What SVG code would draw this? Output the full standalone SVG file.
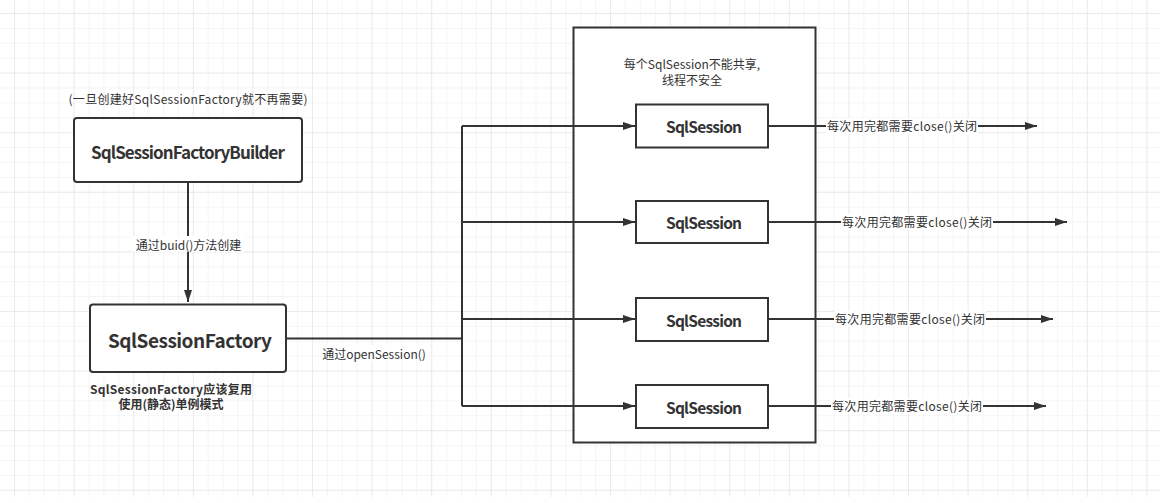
<svg xmlns="http://www.w3.org/2000/svg" width="1160" height="503" viewBox="0 0 1160 503">
<defs>
<pattern id="minor" x="14" y="13" width="14.9" height="14.9" patternUnits="userSpaceOnUse">
<path d="M0 0V14.9M0 0H14.9" fill="none" stroke="#ececec" stroke-width="1"/>
</pattern>
<pattern id="major" x="14" y="13" width="59.6" height="59.6" patternUnits="userSpaceOnUse">
<path d="M0 0V59.6M0 0H59.6" fill="none" stroke="#e1e1e1" stroke-width="1"/>
</pattern>
<marker id="arr" viewBox="0 0 12 8" refX="12" refY="4" markerWidth="12" markerHeight="8" markerUnits="userSpaceOnUse" orient="auto">
<path d="M0 0L12 4L0 8Z" fill="#333"/>
</marker>
<style>
.box{fill:#fff;stroke:#333;stroke-width:2}
.t{font-family:"Noto Sans CJK SC","Noto Sans",sans-serif;fill:#333;text-anchor:middle;dominant-baseline:central}
.bold{font-weight:bold}
.lbl{font-size:12px}
.ln{fill:none;stroke:#333;stroke-width:2}
.bg{fill:#fff}
</style>
</defs>
<rect width="1160" height="503" fill="#fff"/>
<rect x="0" y="0" width="1160" height="497" fill="url(#minor)"/>
<rect x="0" y="0" width="1160" height="497" fill="url(#major)"/>

<g id="container">
<rect x="573.5" y="27.5" width="242" height="415" class="box"/>
<text class="t lbl" x="692" y="63">每个SqlSession不能共享,</text>
<text class="t lbl" x="692" y="79">线程不安全</text>
</g>

<g id="connectors">
<path class="ln" d="M188 183V302" marker-end="url(#arr)"/>
<path class="ln" d="M286 338.5H462"/>
<path class="ln" d="M462 126V406"/>
<path class="ln" d="M462 126H635" marker-end="url(#arr)"/>
<path class="ln" d="M462 222H635" marker-end="url(#arr)"/>
<path class="ln" d="M462 319H635" marker-end="url(#arr)"/>
<path class="ln" d="M462 406H635" marker-end="url(#arr)"/>
<path class="ln" d="M768 126H1037" marker-end="url(#arr)"/>
<path class="ln" d="M768 222H1067" marker-end="url(#arr)"/>
<path class="ln" d="M768 319H1053" marker-end="url(#arr)"/>
<path class="ln" d="M768 406H1046" marker-end="url(#arr)"/>
<rect class="bg" x="132" y="236" width="113" height="16"/>
<text class="t lbl" x="188.5" y="244">通过buid()方法创建</text>
<rect class="bg" x="319" y="345" width="110" height="16"/>
<text class="t lbl" x="374" y="353">通过openSession()</text>
<rect class="bg" x="826" y="118" width="152" height="16"/>
<text class="t lbl" x="902" y="125.5" textLength="150">每次用完都需要close()关闭</text>
<rect class="bg" x="841" y="214" width="152" height="16"/>
<text class="t lbl" x="917" y="221.5" textLength="150">每次用完都需要close()关闭</text>
<rect class="bg" x="834" y="311" width="152" height="16"/>
<text class="t lbl" x="910" y="318.5" textLength="150">每次用完都需要close()关闭</text>
<rect class="bg" x="831" y="398" width="152" height="16"/>
<text class="t lbl" x="907" y="405.5" textLength="150">每次用完都需要close()关闭</text>
</g>

<g id="note-builder">
<text class="t lbl" x="188" y="98" textLength="239">(一旦创建好SqlSessionFactory就不再需要)</text>
</g>

<g id="builder">
<rect x="74" y="118" width="228" height="64" rx="3" class="box"/>
<text class="t bold" x="188" y="151" font-size="17" textLength="194">SqlSessionFactoryBuilder</text>
</g>

<g id="factory">
<rect x="90" y="304.5" width="196" height="67.5" rx="3" class="box"/>
<text class="t bold" x="190" y="339" font-size="19" textLength="164">SqlSessionFactory</text>
</g>

<g id="note-factory">
<text class="t lbl bold" x="171" y="388" textLength="162">SqlSessionFactory应该复用</text>
<text class="t lbl bold" x="171" y="403">使用(静态)单例模式</text>
</g>

<g id="session1">
<rect x="636" y="104.5" width="132" height="43" class="box"/>
<text class="t bold" x="704" y="126" font-size="15.5" textLength="76">SqlSession</text>
</g>
<g id="session2">
<rect x="636" y="201" width="132" height="42" class="box"/>
<text class="t bold" x="704" y="222" font-size="15.5" textLength="76">SqlSession</text>
</g>
<g id="session3">
<rect x="636" y="298" width="132" height="43" class="box"/>
<text class="t bold" x="704" y="319.5" font-size="15.5" textLength="76">SqlSession</text>
</g>
<g id="session4">
<rect x="636" y="385" width="132" height="43" class="box"/>
<text class="t bold" x="704" y="406.5" font-size="15.5" textLength="76">SqlSession</text>
</g>
</svg>
